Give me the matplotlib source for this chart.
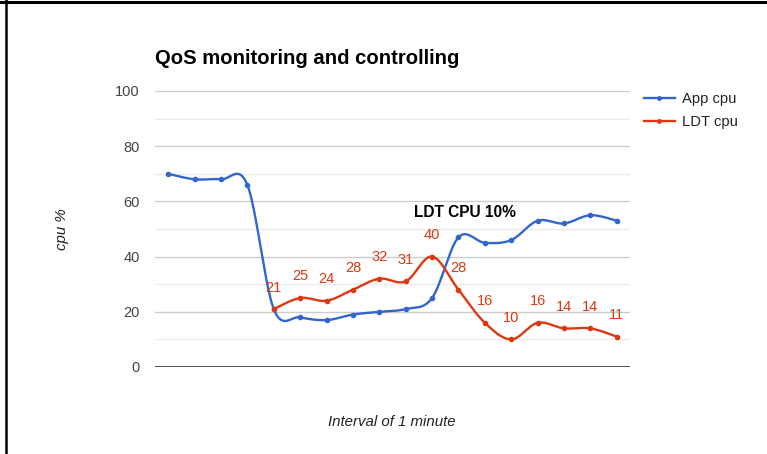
import numpy as np
import matplotlib.pyplot as plt
from matplotlib.lines import Line2D

plt.rcParams['font.family'] = ['Liberation Sans', 'DejaVu Sans']

# data
minutes = np.arange(18)
app_cpu = [70, 68, 68, 66, 21, 18, 17, 19, 20, 21, 25, 47, 45, 46, 53, 52, 55, 53]
ldt_start = 4
ldt_cpu = [21, 25, 24, 28, 32, 31, 40, 28, 16, 10, 16, 14, 14, 11]
y_ticks = [0, 20, 40, 60, 80, 100]
note_x, note_y = 11.23, 56
note_text = "LDT CPU 10%"

BLUE = '#3366cc'
RED = '#dc3912'


def smooth(xs, ys, k=1 / 6., n=40):
    """Catmull-Rom style bezier curve through the points (like curveType 'function')."""
    pts = np.column_stack([xs, ys]).astype(float)
    pad = np.vstack([pts[:1], pts, pts[-1:]])
    out = []
    for i in range(len(pts) - 1):
        p0, p3 = pad[i + 1], pad[i + 2]
        c1 = p0 + (pad[i + 2] - pad[i]) * k
        c2 = p3 - (pad[i + 3] - pad[i + 1]) * k
        t = np.linspace(0, 1, n)[:, None]
        seg = ((1 - t) ** 3) * p0 + 3 * ((1 - t) ** 2) * t * c1 + 3 * (1 - t) * t ** 2 * c2 + t ** 3 * p3
        out.append(seg if i == 0 else seg[1:])
    curve = np.vstack(out)
    return curve[:, 0], curve[:, 1]


fig = plt.figure(figsize=(7.67, 4.54), dpi=100, facecolor='w')
ax = fig.add_axes([155 / 767, 1 - 367 / 454, 475 / 767, 276 / 454])

# gridlines
for v in range(10, 101, 10):
    ax.axhline(v, color='#cccccc' if v % 20 == 0 else '#ebebeb', lw=1, zorder=0)
ax.axhline(0, color='#333333', lw=1.2, zorder=1)

ldt_x = minutes[ldt_start:]
bx, by = smooth(minutes, app_cpu)
rx, ry = smooth(ldt_x, ldt_cpu)
ax.plot(bx, by, color=BLUE, lw=1.7, zorder=3)
ax.plot(minutes, app_cpu, 'o', color=BLUE, ms=3, zorder=3)
ax.plot(rx, ry, color=RED, lw=1.7, zorder=4)
ax.plot(ldt_x, ldt_cpu, 'o', color=RED, ms=3, zorder=4)

for x, v in zip(ldt_x, ldt_cpu):
    ax.annotate(str(v), (x, v), xytext=(0, 15.5), textcoords='offset points',
                ha='center', va='center', color=RED, fontsize=10.5, zorder=5)

ax.text(note_x, note_y, note_text, ha='center', va='center', fontsize=11.2,
        fontweight='bold', color='black', zorder=5)

ax.set_xlim(-0.5, len(minutes) - 0.5)
ax.set_ylim(0, 100)
ax.set_xticks([])
ax.set_yticks(y_ticks)
ax.tick_params(axis='y', length=0, pad=11, labelsize=10.5, labelcolor='#444444')
for spine in ('top', 'right', 'bottom', 'left'):
    ax.spines[spine].set_visible(False)

fig.text(155 / 767, 1 - 58 / 454, "QoS monitoring and controlling", fontsize=14.6,
         fontweight='bold', va='center', ha='left', color='black')
fig.text(62 / 767, 1 - 229 / 454, "cpu %", rotation=90, style='italic', fontsize=10.8,
         ha='center', va='center', color='#222222')
fig.text(392 / 767, 1 - 422 / 454, "Interval of 1 minute", style='italic', fontsize=10.8,
         ha='center', va='center', color='#222222')

handles = [Line2D([], [], color=BLUE, lw=1.7, marker='o', ms=2.5),
           Line2D([], [], color=RED, lw=1.7, marker='o', ms=2.5)]
leg = fig.legend(handles, ["App cpu", "LDT cpu"], loc='upper left',
                 bbox_to_anchor=(644 / 767, 1 - 92 / 454), frameon=False, fontsize=10.6,
                 handlelength=2.1, handletextpad=0.45, labelspacing=0.62, borderaxespad=0,
                 borderpad=0)
for t in leg.get_texts():
    t.set_color('#222222')

# black frame edges of the screenshot
fig.add_artist(Line2D([0, 1], [1 - 1.5 / 454] * 2, transform=fig.transFigure, color='black', lw=2.2))
fig.add_artist(Line2D([6 / 767] * 2, [0, 1], transform=fig.transFigure, color='black', lw=1.8))

fig.savefig("out.png", dpi=100)
